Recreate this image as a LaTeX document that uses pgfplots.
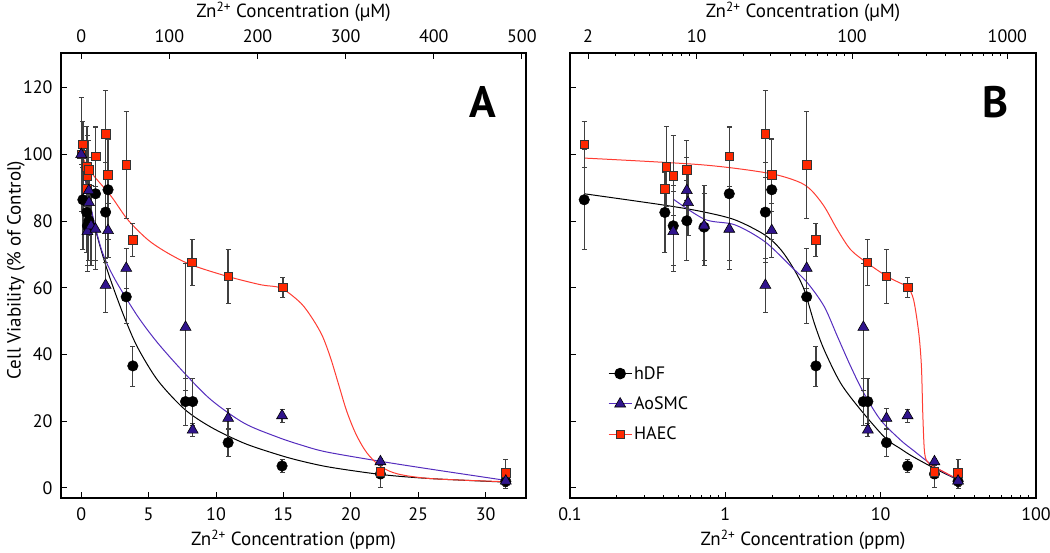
\documentclass[border=0pt]{standalone}
\usepackage{pgfplots}
\usepackage{pgfplotstable}
\pgfplotsset{compat=1.18}
\usepackage{fontspec}
\setmainfont{PT Sans}
\definecolor{haec}{RGB}{255,40,0}
\definecolor{haecline}{RGB}{255,60,50}
\definecolor{aosmc}{RGB}{48,20,140}
\definecolor{aosline}{RGB}{85,45,190}

% ---------- data (ppm, % of control, error) ----------
\pgfplotstableread{
x y e
0.1235 86.4 15
0.408 82.6 12
0.462 78.6 12
0.565 80.1 12
0.73 78.2 10
1.06 88.2 20
1.81 82.7 15
1.99 89.4 15
3.34 57.3 8
3.83 36.6 6
7.74 25.9 7
8.27 25.9 7
10.9 13.6 4
14.9 6.6 2
22.2 4.2 4
31.5 2.0 2
}\hdf
\pgfplotstableread{
x y e
0.462 76.9 12
0.565 89.2 10
0.575 85.6 10
0.73 78.6 12
1.06 77.6 12
1.81 60.8 8
1.99 77.2 8
3.34 65.9 6
7.74 48.2 19
8.27 17.4 2
10.9 20.9 3
14.9 21.7 2
22.2 7.9 1
31.5 2.1 1
}\aos
\pgfplotstableread{
x y e
0.1235 103.0 7
0.408 89.7 6
0.418 96.3 12
0.462 93.6 12
0.565 95.3 9
1.06 99.4 9
1.81 106.1 13
1.99 93.9 11
3.34 96.9 16
3.83 74.4 5
8.22 67.6 7
10.9 63.4 8
14.96 60.2 3
22.2 4.9 2
31.5 4.6 4
}\haec
\pgfplotstableread{
x y e
0 100 17
}\haecctl
\pgfplotstableread{
x y e
0 100 3
}\aosctl

% ---------- fitted curves, panel A (linear) ----------
\pgfplotstableread{
x y
0 100
0.5 88
1 78.5
1.5 71
2 64.5
2.6 57.6
3.3 50.2
4.2 42
5.69 32.2
7.67 23.6
9.64 18.2
12.1 13.4
14.6 10
16.3 8.1
18.5 6.2
22.35 4.0
26 2.8
31.3 1.8
}\hdfA
\pgfplotstableread{
x y
0 100
0.5 88.5
1 79
1.5 71.5
2 66.5
2.72 61
4.2 51.4
5.69 43.4
7.67 34.4
9.64 26.4
12.1 19.4
14.6 15.2
16.3 12.9
18.2 10.8
22.35 7.9
26 5.6
31.3 2.4
}\aosA
\pgfplotstableread{
x y
0 100
0.5 96
0.99 93.3
2.23 87.4
3.46 80.4
4.95 74.4
6.43 70.4
8.16 66.9
10.88 63.4
13.35 60.9
14.84 59.9
16.3 55.4
17.2 50.5
17.9 45.5
18.5 39
19.1 31
19.7 23
20.4 16
21.2 10.5
22.2 6.5
23.5 4.2
26 2.8
31.3 1.9
}\haecA

% ---------- fitted curves, panel B (log) ----------
\pgfplotstableread{
x y
0.1235 88.2
0.39 84.9
0.70 82.9
1.15 80.4
1.79 75.9
2.28 71.4
2.78 65.4
3.22 59.4
3.74 49.4
4.33 41.4
5.53 31.4
7.44 23.4
10.7 15
13.4 11.8
16 9.5
22.2 5.9
31.5 2.4
}\hdfB
\pgfplotstableread{
x y
0.462 86.6
0.74 80.5
1.15 78.9
1.79 73.9
2.65 66.4
3.39 61.4
4.33 54.4
5.27 45.4
6.42 36.4
7.8 28.4
9.98 20.4
13.4 14.4
16 11.5
22.2 6.4
31.5 2.4
}\aosB
\pgfplotstableread{
x y
0.1235 98.9
0.70 96.9
1.88 94.4
2.92 91.9
3.55 89.4
4.33 84.4
5.27 77.4
6.42 71.4
8.22 67.4
11 63.4
13.4 61.4
14.96 60.2
16.3 56.4
17.6 46.4
18.3 36.4
18.7 21.4
19.2 10.4
20.4 7.4
24.2 5.4
31.5 2.6
}\haecB

\pgfplotsset{
  panel/.style={
    scale only axis, width=465pt, height=445pt,
    ymin=-3, ymax=130.4,
    axis line style={line width=1.5pt},
    tick style={black, line width=1pt},
    major tick length=6pt, minor tick length=3.5pt,
    tick align=inside,
    tick label style={font=\fontsize{18}{18}\selectfont},
    /pgf/number format/assume math mode=true,
  },
  ebars/.style={error bars/.cd, y dir=both, y explicit,
    error bar style={line width=1.3pt, black!75},
    error mark options={rotate=90, mark size=2.5pt, line width=0.7pt, black!75},
    /pgfplots/.cd},
  hdfmark/.style={only marks, mark=*, mark size=5.3pt, mark options={fill=black, draw=black}},
  aosmark/.style={only marks, mark=triangle*, mark size=6.3pt, mark options={fill=aosmc, draw=black, line width=0.6pt}},
  haecmark/.style={only marks, mark=square*, mark size=4.3pt, mark options={fill=haec, draw=black!80, line width=0.6pt}},
}

\begin{document}
\begin{tikzpicture}
\useasboundingbox (0pt,0pt) rectangle (1050pt,552pt);

% ================= Panel A =================
\begin{axis}[panel, at={(61pt,54pt)}, anchor=south west,
  xmin=-1.5, xmax=33, xtick={0,5,...,30}, ytick={0,20,...,120},
  xtick pos=left, ytick pos=left,
  xticklabel style={yshift=-6pt}, yticklabel style={xshift=-5pt}]
\addplot[black, line width=1pt, smooth] table {\hdfA};
\addplot[aosline, line width=1pt, smooth] table {\aosA};
\addplot[haecline, line width=1pt, smooth] table {\haecA};
\addplot[forget plot, hdfmark, ebars] table[y error=e] {\hdf};
\addplot[forget plot, haecmark, ebars] table[y error=e] {\haec};
\addplot[forget plot, haecmark, ebars] table[y error=e] {\haecctl};
\addplot[forget plot, aosmark, ebars] table[y error=e] {\aos};
\addplot[forget plot, aosmark, ebars] table[y error=e] {\aosctl};
\end{axis}
\begin{axis}[panel, at={(61pt,54pt)}, anchor=south west,
  xmin=-22.94, xmax=504.7, axis x line*=top, axis y line=none,
  xtick={0,100,...,500}, xticklabel style={yshift=7pt}]
\end{axis}

% ================= Panel B =================
\begin{axis}[panel, at={(570pt,54pt)}, anchor=south west, width=466pt,
  xmode=log, xmin=0.1, xmax=100,
  xtick={0.1,1,10,100}, xticklabels={0.1,1,10,100},
  minor xtick={0.2,0.3,0.4,0.5,0.6,0.7,0.8,0.9,2,3,4,5,6,7,8,9,20,30,40,50,60,70,80,90},
  ytick={0,20,...,120}, yticklabel=\empty,
  xtick pos=left, ytick pos=left,
  xticklabel style={yshift=-6pt},
  legend style={at={(0.075,0.305)}, anchor=north west, draw=none, fill=none,
    font=\fontsize{18}{18}\selectfont, row sep=12pt, cells={anchor=west}},
  legend image code/.code={\draw[mark repeat=2,mark phase=2] plot coordinates {(0pt,0pt) (11.5pt,0pt) (23pt,0pt)};}]
\addlegendimage{black, line width=1pt, mark=*, mark size=5.3pt, mark options={fill=black}}
\addlegendentry{hDF}
\addlegendimage{aosline, line width=1pt, mark=triangle*, mark size=6.3pt, mark options={fill=aosmc, draw=black, line width=0.6pt}}
\addlegendentry{AoSMC}
\addlegendimage{haecline, line width=1pt, mark=square*, mark size=4.3pt, mark options={fill=haec, draw=black!80, line width=0.6pt}}
\addlegendentry{HAEC}
\addplot[forget plot, black, line width=1pt, smooth] table {\hdfB};
\addplot[forget plot, aosline, line width=1pt, smooth] table {\aosB};
\addplot[forget plot, haecline, line width=1pt, smooth] table {\haecB};
\addplot[forget plot, hdfmark, ebars] table[y error=e] {\hdf};
\addplot[forget plot, haecmark, ebars] table[y error=e] {\haec};
\addplot[forget plot, aosmark, ebars] table[y error=e] {\aos};
\end{axis}
\begin{axis}[panel, at={(570pt,54pt)}, anchor=south west, width=466pt,
  xmode=log, xmin=1.5295, xmax=1529.5, axis x line*=top, axis y line=none,
  xtick={2,10,100,1000}, xticklabels={2,10,100,1000},
  minor xtick={3,4,5,6,7,8,9,20,30,40,50,60,70,80,90,200,300,400,500,600,700,800,900},
  xticklabel style={yshift=7pt}]
\end{axis}

% ================= labels =================
\node[font=\fontsize{19}{19}\selectfont] at (293.5pt,12pt) {Zn\textsuperscript{2+} Concentration (ppm)};
\node[font=\fontsize{19}{19}\selectfont] at (803pt,12pt) {Zn\textsuperscript{2+} Concentration (ppm)};
\node[font=\fontsize{19}{19}\selectfont] at (293.5pt,540pt) {Zn\textsuperscript{2+} Concentration (µM)};
\node[font=\fontsize{19}{19}\selectfont] at (803pt,540pt) {Zn\textsuperscript{2+} Concentration (µM)};
\node[font=\fontsize{19}{19}\selectfont, rotate=90] at (16pt,282pt) {Cell Viability (\% of Control)};
\node[font=\bfseries\fontsize{44}{44}\selectfont] at (483pt,450pt) {A};
\node[font=\bfseries\fontsize{44}{44}\selectfont] at (995pt,450pt) {B};
\end{tikzpicture}
\end{document}
